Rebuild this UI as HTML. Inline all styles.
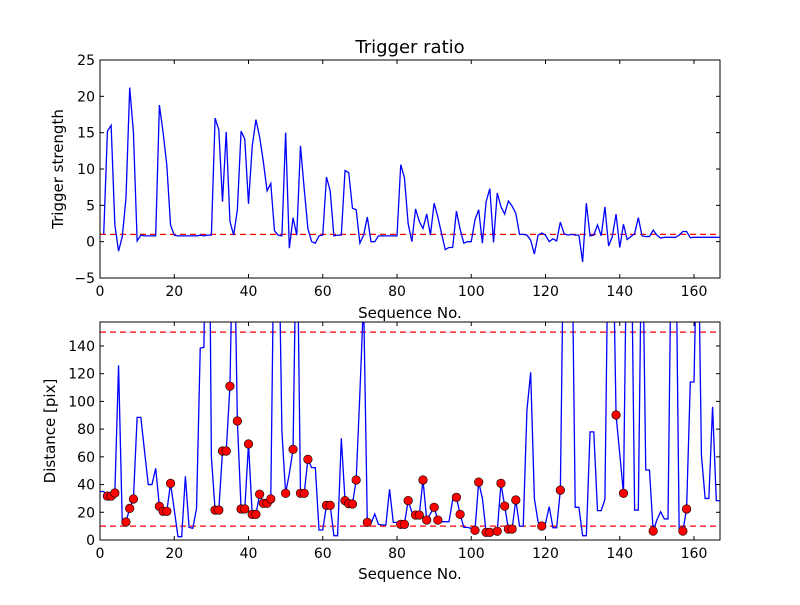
<!DOCTYPE html>
<html><head><meta charset="utf-8"><style>
html,body{margin:0;padding:0;background:#fff;}
svg text{font-family:"DejaVu Sans","Liberation Sans",sans-serif;fill:#000;}
</style></head><body>
<svg id="chart" width="800" height="600" viewBox="0 0 800 600" xmlns="http://www.w3.org/2000/svg">
<defs>
<clipPath id="clipTop"><rect x="100" y="60" width="620" height="218"/></clipPath>
<clipPath id="clipBot"><rect x="100" y="322" width="620" height="218"/></clipPath>
</defs>
<g id="topPanel"></g>
<g id="botPanel"></g>
<text x="410" y="53" font-size="18" text-anchor="middle">Trigger ratio</text>
<text x="410" y="318" font-size="15" text-anchor="middle">Sequence No.</text>
<text x="410" y="579" font-size="15" text-anchor="middle">Sequence No.</text>
<text transform="translate(63,169) rotate(-90)" font-size="15" text-anchor="middle">Trigger strength</text>
<text transform="translate(55,431) rotate(-90)" font-size="15" text-anchor="middle">Distance [pix]</text>
</svg>
<script>
const xTicks = [0,20,40,60,80,100,120,140,160];
const topYTicks = [-5,0,5,10,15,20,25];
const botYTicks = [0,20,40,60,80,100,120,140];
const triggerThreshold = 1.0;
const distThresholds = [10,150];
// trigger strength, index 1..167 (index 0 unused)
const triggerValues = [null,1.0,15.2,16.0,2.3,-1.3,0.7,6,21.2,15.1,0.1,0.9,0.8,0.8,0.8,0.8,18.8,15,10.5,2.3,0.9,
0.8,0.8,0.8,0.8,0.8,0.8,0.9,0.8,0.9,0.9,17.0,15.4,5.5,15.1,2.8,0.9,4.4,15.2,14.1,5.2,
13.1,16.8,14.4,11,7,8,1.5,0.9,0.8,15,-0.9,3.3,0.9,13.2,7.3,1.8,0,-0.2,0.8,0.9,
8.9,7,0.8,0.9,0.9,9.8,9.5,4.6,4.4,-0.2,0.9,3.4,0,0,0.8,0.8,0.8,0.8,0.8,0.8,
10.6,8.8,2.5,0,4.5,2.8,1.8,3.8,0.9,5.3,3.4,1.1,-1.1,-0.8,-0.8,4.2,1.7,-0.2,0,0,
3.0,4.4,-0.2,5.5,7.3,-0.1,6.7,4.8,3.8,5.6,4.9,3.9,1.0,1.0,0.9,0.2,-1.7,0.9,1.2,0.9,
0,0.4,0.1,2.7,1.1,0.9,1.0,0.9,0.9,-2.8,5.3,0.8,0.9,2.3,0.8,4.8,-0.6,0.7,3.8,-0.8,
2.4,0.3,0.7,1.1,3.3,0.8,0.7,0.7,1.6,0.9,0.5,0.6,0.6,0.6,0.6,0.9,1.4,1.4,0.55,0.6,
0.6,0.6,0.6,0.6,0.6,0.6,0.6];
// distance, index 0..167
const distanceValues = [35,35,31.7,31.7,33.9,126,12,13,22.8,29.6,88.5,88.5,64,40,40,51.7,24.3,20.7,20.7,40.9,
22,2.4,2.4,46,9.1,8.4,22.8,138.5,139,400,60,21.6,21.6,64.2,64.2,111,250,85.9,22.4,22.4,
69.3,18.5,18.5,33,26.5,26.5,29.6,250,250,78,33.7,48,65.4,250,33.7,33.7,58.2,52.2,52.2,7.2,
7.2,25,25,3.1,3.1,73.4,28.4,26.2,26,43.3,106,174,12.7,12,18.8,11.3,10.8,10.8,36.6,12.7,
12.7,11.3,11.3,28.4,20,18,18,43.3,14.4,19,23.6,14.4,13.2,13.2,13.2,29,30.8,18.5,9.1,9.1,
8.4,7,41.8,30,5.5,5.5,6,6.3,40.9,24.5,7.9,7.9,28.9,10,10,93.8,121,30,13,10.1,
12,24,8.9,8.9,36,250,250,250,23.6,23.6,3.1,3.1,78,78,21.2,21.2,29.3,250,250,90.2,
62,33.7,250,250,21.6,21.6,250,50.5,50.5,6.5,14.4,20.4,15.2,15.2,250,250,6.5,6.5,22.4,114,
114,250,61,30,30,96,28.4,28.4];
const markerIdx = [2,3,4,7,8,9,16,17,18,19,31,32,33,34,35,37,38,39,40,41,42,43,44,45,46,50,52,54,55,56,61,62,66,67,68,69,72,81,82,83,85,86,87,88,90,91,96,97,101,102,104,105,107,108,109,110,111,112,119,124,139,141,149,157,158];

const NS = "http://www.w3.org/2000/svg";
const X0=100, X1=720, XMIN=0, XMAX=167;
const xs = v => X0 + (v-XMIN)/(XMAX-XMIN)*(X1-X0);
const topY = v => 278 - (v+5)/30*218;
const botY = v => 540 - v/157.3*218;
function mk(tag, attrs, parent){const e=document.createElementNS(NS,tag);for(const k in attrs)e.setAttribute(k,attrs[k]);parent.appendChild(e);return e;}

function drawAxes(g, yTop, yBot, yTicks, yFn, name){
  const frame = mk('rect',{x:X0,y:yTop,width:X1-X0,height:yBot-yTop,fill:'none',stroke:'#000','stroke-width':1},g);
  
  
  xTicks.forEach(t=>{
    const x=xs(t);
    const a=mk('line',{x1:x,x2:x,y1:yBot,y2:yBot-4,stroke:'#000'},g);
    
    
    const b=mk('line',{x1:x,x2:x,y1:yTop,y2:yTop+4,stroke:'#000'},g);
    
    
    const l=mk('text',{x:x,y:yBot+18,'font-size':14,'text-anchor':'middle'},g);
    l.textContent=String(t);
    
    
  });
  yTicks.forEach(t=>{
    const y=yFn(t);
    const a=mk('line',{x1:X0,x2:X0+4,y1:y,y2:y,stroke:'#000'},g);
    
    
    const b=mk('line',{x1:X1,x2:X1-4,y1:y,y2:y,stroke:'#000'},g);
    
    
    const l=mk('text',{x:X0-5,y:y+5,'font-size':14,'text-anchor':'end'},g);
    l.textContent=t<0?'\u2212'+Math.abs(t):String(t);
    
    
  });
}

// top panel
const gt=document.getElementById('topPanel');
const ct=mk('g',{'clip-path':'url(#clipTop)'},gt);
const th=mk('line',{x1:X0,x2:X1,y1:topY(triggerThreshold),y2:topY(triggerThreshold),stroke:'#f00','stroke-width':1.2,'stroke-dasharray':'6,4'},ct);


let pts=[];
triggerValues.forEach((v,i)=>{ if(v!==null) pts.push(xs(i).toFixed(2)+','+topY(v).toFixed(2)); });
const tl=mk('polyline',{points:pts.join(' '),fill:'none',stroke:'#00f','stroke-width':1.3},ct);


drawAxes(gt,60,278,topYTicks,topY,'top');

// bottom panel
const gb=document.getElementById('botPanel');
const cb=mk('g',{'clip-path':'url(#clipBot)'},gb);
distThresholds.forEach(t=>{
  const d=mk('line',{x1:X0,x2:X1,y1:botY(t),y2:botY(t),stroke:'#f00','stroke-width':1.2,'stroke-dasharray':'6,4'},cb);
  
  
});
pts=distanceValues.map((v,i)=>xs(i).toFixed(2)+','+botY(v).toFixed(2));
const bl=mk('polyline',{points:pts.join(' '),fill:'none',stroke:'#00f','stroke-width':1.3},cb);


markerIdx.forEach(i=>{
  const c=mk('circle',{cx:xs(i),cy:botY(distanceValues[i]),r:4.3,fill:'#f00',stroke:'#000','stroke-width':0.6},cb);
  
  
});
drawAxes(gb,322,540,botYTicks,botY,'bottom');
</script>
</body></html>
